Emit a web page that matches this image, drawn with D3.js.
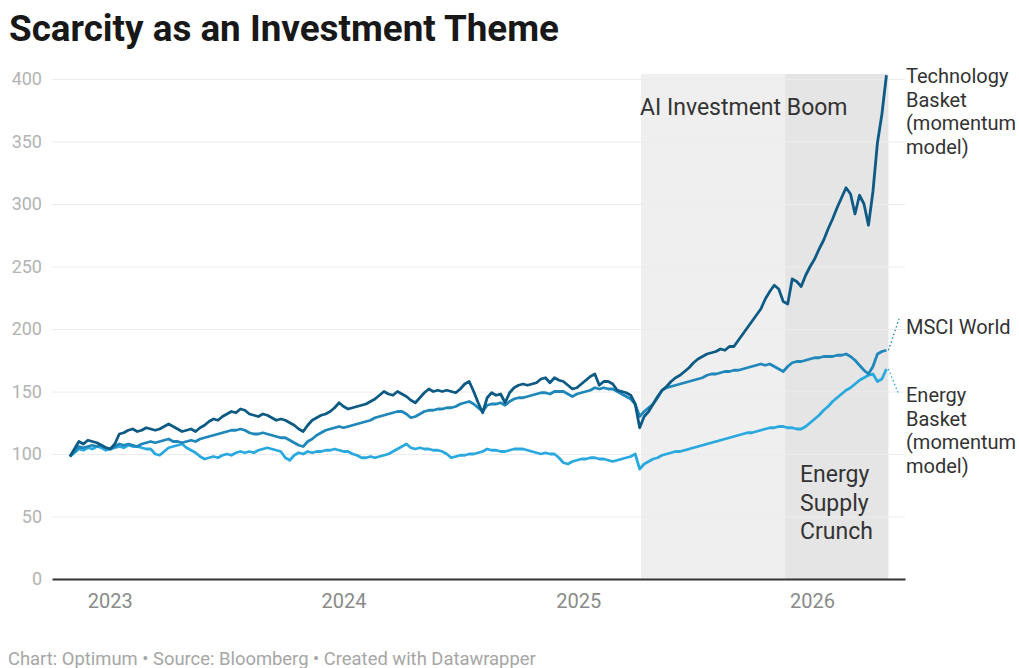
<!DOCTYPE html>
<html>
<head>
<meta charset="utf-8">
<script src="https://cdn.jsdelivr.net/npm/d3@7"></script>
<style>
  body { margin: 0; background: #fff; font-family: Roboto, "Noto Sans", sans-serif; }
  svg { display: block; }
</style>
</head>
<body>
<div id="chart"></div>
<script>
// weekly closes, indexed to 100, first week 2022-10-31
var startDate = "2022-10-31";

var techBasket = [
  98,104,110,108,111,110,109,107,105,104,
  108,116,117,119,120,118,119,121,120,119,
  120,122,124,122,120,118,119,120,118,121,
  123,126,128,127,130,132,134,133,136,135,
  132,131,130,132,131,129,127,128,127,125,
  123,120,118,123,127,129,131,132,134,137,
  141,138,136,137,138,139,140,142,144,147,
  150,148,147,150,148,146,143,141,145,149,
  152,150,151,150,151,150,149,152,156,158,
  150,141,133,145,149,147,148,141,149,153,
  155,156,155,156,157,160,161,157,161,159,
  158,155,152,153,156,159,162,164,155,158,
  158,156,151,150,149,147,140,121,130,134,
  140,146,151,154,158,161,163,166,169,173,
  176,178,180,181,182,184,183,186,186,191,
  196,201,206,211,216,224,230,235,232,222,
  220,240,238,234,243,250,256,264,271,280,
  288,297,305,313,308,292,307,300,283,310,
  349,372,403
];

var msciWorld = [
  98,102,106,105,106,107,106,107,105,104,
  106,108,107,108,107,106,108,109,110,109,
  110,111,112,110,110,109,110,111,110,112,
  113,114,115,116,117,118,119,119,120,119,
  117,116,116,117,116,115,114,113,113,111,
  109,107,106,110,112,115,117,119,120,121,
  122,121,122,123,124,125,126,127,129,130,
  131,132,133,134,134,132,129,130,132,134,
  135,135,136,136,137,137,138,140,141,142,
  140,137,134,139,140,140,141,139,142,144,
  145,145,146,147,148,149,149,148,150,150,
  150,148,146,148,149,150,151,153,152,153,
  152,152,150,148,146,144,140,130,134,137,
  140,145,151,153,154,155,156,157,158,159,
  160,161,163,164,164,165,166,166,167,167,
  168,169,170,171,172,171,172,170,168,166,
  170,173,174,174,175,176,177,177,178,178,
  178,179,179,180,178,175,171,167,164,170,
  180,182,183
];

var energyBasket = [
  98,101,104,103,105,104,106,105,103,104,
  105,106,105,107,106,106,105,104,104,100,
  99,102,105,106,107,108,105,103,101,98,
  96,97,98,97,99,100,99,101,102,101,
  102,101,103,104,105,104,103,102,97,95,
  99,101,100,102,101,102,102,103,103,104,
  103,102,102,100,99,97,97,98,97,98,
  99,100,102,104,106,108,105,104,105,104,
  104,103,103,102,100,97,98,99,99,100,
  100,101,102,104,103,103,102,102,103,104,
  104,104,103,102,101,100,101,100,100,97,
  93,92,94,95,96,96,97,97,96,96,
  95,94,95,96,97,98,100,88,92,94,
  96,97,99,100,101,102,102,103,104,105,
  106,107,108,109,110,111,112,113,114,115,
  116,117,117,118,119,120,121,121,122,122,
  121,121,120,120,122,125,128,131,135,138,
  142,145,148,151,153,156,159,161,163,164,
  158,160,168
];

var seriesNames = ["Technology Basket (momentum model)", "MSCI World", "Energy Basket (momentum model)"];
var seriesColors = ["#0d5a85", "#1f87ba", "#2aa9df"];

var yTicks = [0, 50, 100, 150, 200, 250, 300, 350, 400];
var xTicks = ["2023-01-01", "2024-01-01", "2025-01-01", "2026-01-01"];

var highlightRanges = [
  {start: "2025-04-09", end: "2026-04-30", fill: "#efefef"},
  {start: "2025-11-20", end: "2026-04-30", fill: "#e5e5e5"}
];

var width = 1019;
var height = 668;

var parseDate = d3.timeParse("%Y-%m-%d");
var t0 = parseDate(startDate);
var dates = techBasket.map((d, i) => d3.timeDay.offset(t0, i * 7));

var data = [techBasket, msciWorld, energyBasket].map(function(vals, k) {
  return {
    name: seriesNames[k],
    color: seriesColors[k],
    values: vals.map((v, i) => ({date: dates[i], price: v}))
  };
});

/* Scales */
var xScale = d3.scaleTime()
  .domain([parseDate("2022-10-03"), parseDate("2026-05-26")])
  .range([52, 905]);

var yScale = d3.scaleLinear()
  .domain([0, 400])
  .range([579, 79]);

var svg = d3.select("#chart").append("svg")
  .attr("width", width)
  .attr("height", height);

/* Title */
svg.append("text")
  .attr("x", 9)
  .attr("y", 41)
  .style("font-family", "Roboto")
  .style("font-weight", 700)
  .style("font-size", "36.8px")
  .attr("fill", "#181818")
  .text("Scarcity as an Investment Theme");

/* Highlight ranges */
svg.append("g").selectAll("rect")
  .data(highlightRanges).enter()
  .append("rect")
  .attr("x", d => xScale(parseDate(d.start)))
  .attr("width", d => xScale(parseDate(d.end)) - xScale(parseDate(d.start)))
  .attr("y", yScale(404))
  .attr("height", yScale(0) - yScale(404))
  .attr("fill", d => d.fill);

/* Grid + y labels */
var yAxis = d3.axisLeft(yScale)
  .tickValues(yTicks)
  .tickSize(-(905 - 52))
  .tickPadding(10);

var gy = svg.append("g")
  .attr("transform", "translate(52,0)")
  .call(yAxis);
gy.select(".domain").remove();
gy.selectAll(".tick line")
  .attr("stroke", "#ececec")
  .attr("stroke-width", 1)
  .attr("opacity", d => d === 0 ? 0 : 1);
gy.selectAll(".tick text")
  .attr("fill", "#b3b3b3")
  .style("font-family", "Roboto")
  .style("font-size", "18px");

/* x axis */
var xAxis = d3.axisBottom(xScale)
  .tickValues(xTicks.map(parseDate))
  .tickFormat(d3.timeFormat("%Y"))
  .tickSize(0)
  .tickPadding(15);

var gx = svg.append("g")
  .attr("transform", `translate(0, ${yScale(0)})`)
  .call(xAxis);
gx.select(".domain")
  .attr("stroke", "#333")
  .attr("stroke-width", 2);
gx.selectAll(".tick text")
  .attr("fill", "#8a8a8a")
  .style("font-family", "Roboto")
  .style("font-size", "20px");

/* Range annotations */
svg.append("text")
  .attr("x", 640)
  .attr("y", 115)
  .attr("fill", "#333")
  .style("font-family", "Roboto")
  .style("font-size", "23px")
  .text("AI Investment Boom");

svg.append("text")
  .attr("x", 800)
  .attr("y", 482)
  .attr("fill", "#333")
  .style("font-family", "Roboto")
  .style("font-size", "23px")
  .selectAll("tspan")
  .data(["Energy", "Supply", "Crunch"]).enter()
  .append("tspan")
  .attr("x", 800)
  .attr("dy", (d, i) => i === 0 ? 0 : 28.5)
  .text(d => d);

/* Lines */
var line = d3.line()
  .x(d => xScale(d.date))
  .y(d => yScale(d.price));

svg.append("g").selectAll("path")
  .data(data.slice().reverse()).enter()
  .append("path")
  .attr("d", d => line(d.values))
  .attr("fill", "none")
  .attr("stroke", d => d.color)
  .attr("stroke-width", 2.8)
  .attr("stroke-linejoin", "round");

/* Line labels */
var labelLines = [
  ["Technology", "Basket", "(momentum", "model)"],
  ["MSCI World"],
  ["Energy", "Basket", "(momentum", "model)"]
];
var labelTop = [83, 334, 402];
var connectorEnd = [null, 319, 395];

data.forEach(function(s, k) {
  var last = s.values[s.values.length - 1];
  if (connectorEnd[k] !== null) {
    svg.append("line")
      .attr("x1", xScale(last.date) + 2)
      .attr("y1", yScale(last.price))
      .attr("x2", 899)
      .attr("y2", connectorEnd[k])
      .attr("stroke", s.color)
      .attr("stroke-width", 1.3)
      .attr("stroke-dasharray", "1.5,2.5");
  }
  svg.append("text")
    .attr("x", 906)
    .attr("y", labelTop[k])
    .attr("fill", "#333")
    .style("font-family", "Roboto")
    .style("font-size", "20px")
    .selectAll("tspan")
    .data(labelLines[k]).enter()
    .append("tspan")
    .attr("x", 906)
    .attr("dy", (d, i) => i === 0 ? 0 : 23.5)
    .text(d => d);
});

/* Footer */
svg.append("text")
  .attr("x", 8)
  .attr("y", 665)
  .attr("fill", "#a6a6a6")
  .style("font-family", "Roboto")
  .style("font-size", "18.4px")
  .text("Chart: Optimum \u2022 Source: Bloomberg \u2022 Created with Datawrapper");
</script>
</body>
</html>
